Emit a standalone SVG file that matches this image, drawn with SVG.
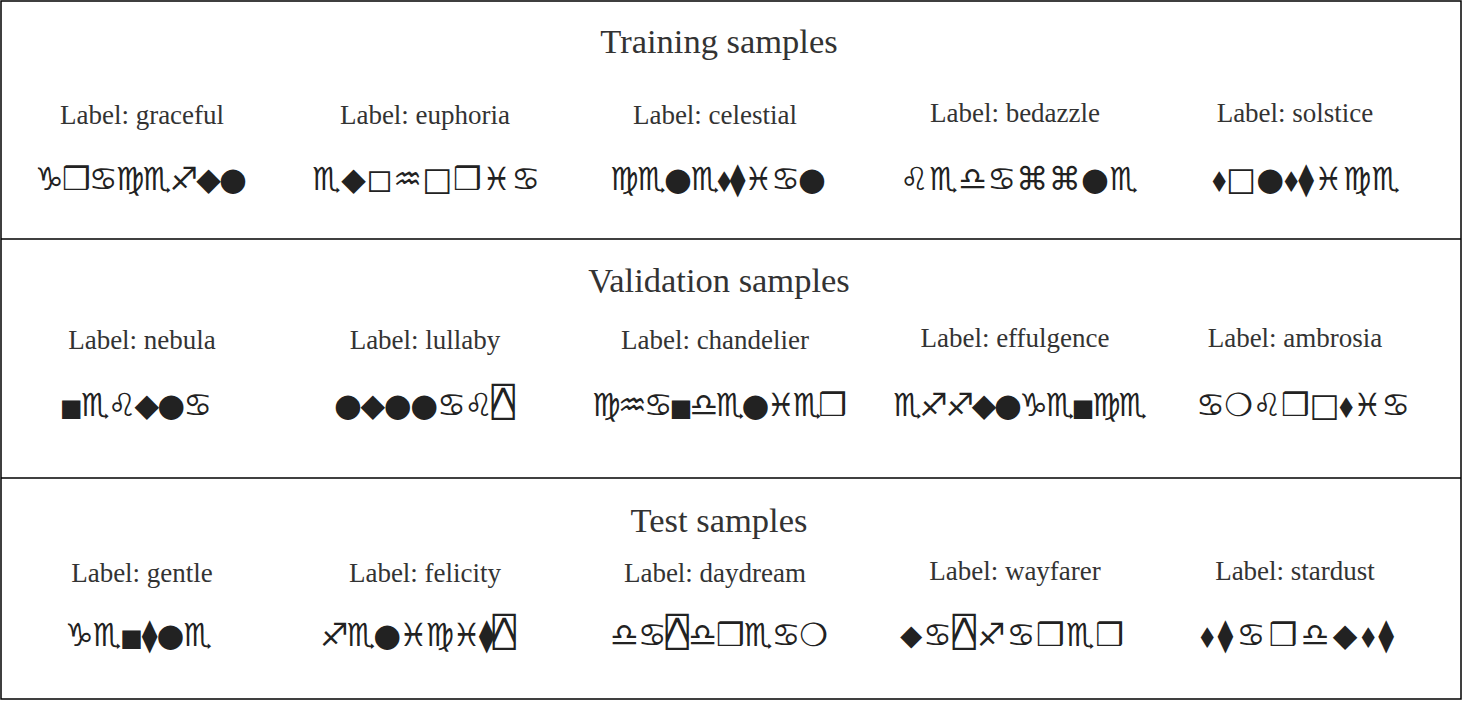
<svg xmlns="http://www.w3.org/2000/svg" width="1463" height="701" viewBox="0 0 1463 701">
<style>
.frame{fill:none;stroke:#000;stroke-width:1.5}
.title{font-family:"Liberation Serif","Times New Roman",serif;font-size:34.5px;fill:#333;text-anchor:middle}
.lbl{font-family:"Liberation Serif","Times New Roman",serif;font-size:27px;fill:#333;text-anchor:middle}
.sym{font-family:"DejaVu Sans","Noto Sans",sans-serif;font-size:32px;fill:#222}
.sq{font-size:24px}
.tri{font-family:"DejaVu Sans Mono","DejaVu Sans",monospace;font-size:39px}
</style>
<rect width="1463" height="701" fill="#fff"/>
<g id="panels">
<rect class="frame" x="1" y="1" width="1460" height="698"/>
<line class="frame" x1="1" y1="239" x2="1461" y2="239"/>
<line class="frame" x1="1" y1="478" x2="1461" y2="478"/>
</g>
<g id="training">
<text class="title" x="719" y="53">Training samples</text>
<g id="t1"><text class="lbl" x="142" y="124">Label: graceful</text><text class="sym" x="35" y="190" textLength="212" lengthAdjust="spacing">♑❒♋♍♏♐◆●</text></g>
<g id="t2"><text class="lbl" x="425" y="124">Label: euphoria</text><text class="sym" x="312" y="190" textLength="228" lengthAdjust="spacing">♏◆◻♒□❒♓♋</text></g>
<g id="t3"><text class="lbl" x="715" y="124">Label: celestial</text><text class="sym" x="610" y="190" textLength="216" lengthAdjust="spacing">♍♏●♏⬧⧫♓♋●</text></g>
<g id="t4"><text class="lbl" x="1015" y="122">Label: bedazzle</text><text class="sym" x="900" y="190" textLength="238" lengthAdjust="spacing">♌♏♎♋⌘⌘●♏</text></g>
<g id="t5"><text class="lbl" x="1295" y="122">Label: solstice</text><text class="sym" x="1212" y="190" textLength="188" lengthAdjust="spacing">⬧□●⬧⧫♓♍♏</text></g>
</g>
<g id="validation">
<text class="title" x="719" y="292">Validation samples</text>
<g id="v1"><text class="lbl" x="142" y="349">Label: nebula</text><text class="sym" x="60" y="416" textLength="152" lengthAdjust="spacing"><tspan class="sq">■</tspan>♏♌◆●♋</text></g>
<g id="v2"><text class="lbl" x="425" y="349">Label: lullaby</text><text class="sym" x="334" y="416" textLength="181" lengthAdjust="spacing">●◆●●♋♌<tspan class="tri">⍓</tspan></text></g>
<g id="v3"><text class="lbl" x="715" y="349">Label: chandelier</text><text class="sym" x="592" y="416" textLength="255" lengthAdjust="spacing">♍♒♋<tspan class="sq">■</tspan>♎♏●♓♏❒</text></g>
<g id="v4"><text class="lbl" x="1015" y="347">Label: effulgence</text><text class="sym" x="893" y="416" textLength="254" lengthAdjust="spacing">♏♐♐◆●♑♏<tspan class="sq">■</tspan>♍♏</text></g>
<g id="v5"><text class="lbl" x="1295" y="347">Label: ambrosia</text><text class="sym" x="1196" y="416" textLength="214" lengthAdjust="spacing">♋❍♌❒□⬧♓♋</text></g>
</g>
<g id="test">
<text class="title" x="719" y="532">Test samples</text>
<g id="s1"><text class="lbl" x="142" y="582">Label: gentle</text><text class="sym" x="65" y="646" textLength="147" lengthAdjust="spacing">♑♏<tspan class="sq">■</tspan>⧫●♏</text></g>
<g id="s2"><text class="lbl" x="425" y="582">Label: felicity</text><text class="sym" x="320" y="646" textLength="196" lengthAdjust="spacing">♐♏●♓♍♓⧫<tspan class="tri">⍓</tspan></text></g>
<g id="s3"><text class="lbl" x="715" y="582">Label: daydream</text><text class="sym" x="610" y="646" textLength="218" lengthAdjust="spacing">♎♋<tspan class="tri">⍓</tspan>♎❒♏♋❍</text></g>
<g id="s4"><text class="lbl" x="1015" y="580">Label: wayfarer</text><text class="sym" x="900" y="646" textLength="224" lengthAdjust="spacing">⬥♋<tspan class="tri">⍓</tspan>♐♋❒♏❒</text></g>
<g id="s5"><text class="lbl" x="1295" y="580">Label: stardust</text><text class="sym" x="1200" y="646" textLength="194" lengthAdjust="spacing">⬧⧫♋❒♎◆⬧⧫</text></g>
</g>
</svg>
